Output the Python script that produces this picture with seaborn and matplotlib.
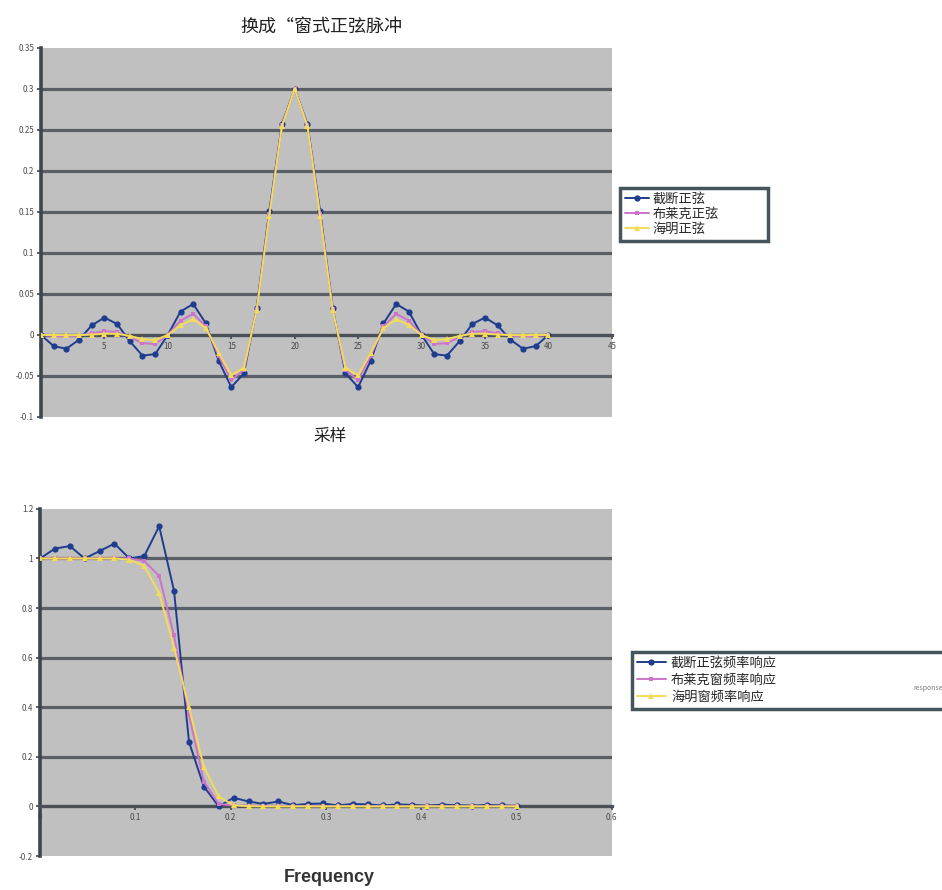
import matplotlib
matplotlib.use("Agg")
import matplotlib.pyplot as plt
import seaborn as sns
from matplotlib.lines import Line2D

sns.set_theme(style="white")
plt.rcParams['font.family'] = ['Noto Sans CJK SC', 'DejaVu Sans']
plt.rcParams['axes.unicode_minus'] = False

# ---- impulse responses (sample index 0..40) ----
sample_n = list(range(41))
sinc_trunc = [0.0, -0.0136, -0.0168, -0.0058, 0.0117, 0.0212, 0.0134, -0.0076, -0.0252, -0.0234,
              0.0, 0.0286, 0.0378, 0.0141, -0.0312, -0.0637, -0.0468, 0.0328, 0.1514, 0.2575,
              0.3,
              0.2575, 0.1514, 0.0328, -0.0468, -0.0637, -0.0312, 0.0141, 0.0378, 0.0286, 0.0,
              -0.0234, -0.0252, -0.0076, 0.0134, 0.0212, 0.0117, -0.0058, -0.0168, -0.0136, 0.0]
sinc_blackman = [0.0, -0.0012, -0.0017, -0.0008, 0.0020, 0.0046, 0.0036, -0.0025, -0.0100, -0.0110,
                 0.0, 0.0175, 0.0258, 0.0105, -0.0253, -0.0551, -0.0427, 0.0312, 0.1480, 0.2560,
                 0.3,
                 0.2560, 0.1480, 0.0312, -0.0427, -0.0551, -0.0253, 0.0105, 0.0258, 0.0175, 0.0,
                 -0.0110, -0.0100, -0.0025, 0.0036, 0.0046, 0.0020, -0.0008, -0.0017, -0.0012, 0.0]
sinc_hamming = [0.0, 0.0, -0.0002, -0.0001, 0.0005, 0.0014, 0.0014, -0.0011, -0.0051, -0.0062,
                0.0, 0.0121, 0.0193, 0.0084, -0.0215, -0.0493, -0.0397, 0.0299, 0.1454, 0.2549,
                0.3,
                0.2549, 0.1454, 0.0299, -0.0397, -0.0493, -0.0215, 0.0084, 0.0193, 0.0121, 0.0,
                -0.0062, -0.0051, -0.0011, 0.0014, 0.0014, 0.0005, -0.0001, -0.0002, 0.0, 0.0]

# ---- frequency responses ----
freq = [0.0, 0.0156, 0.0313, 0.0469, 0.0625, 0.0781, 0.0938, 0.1094, 0.125, 0.1406,
        0.1563, 0.1719, 0.1875, 0.2031, 0.2188, 0.2344, 0.25, 0.2656, 0.2813, 0.2969,
        0.3125, 0.3281, 0.3438, 0.3594, 0.375, 0.3906, 0.4063, 0.4219, 0.4375, 0.4531,
        0.4688, 0.4844, 0.5]
resp_trunc = [1.00, 1.04, 1.05, 1.00, 1.03, 1.06, 1.00, 1.01, 1.13, 0.87,
              0.26, 0.08, 0.00, 0.035, 0.02, 0.01, 0.02, 0.005, 0.01, 0.012,
              0.004, 0.01, 0.008, 0.004, 0.008, 0.006, 0.003, 0.007, 0.005, 0.003,
              0.006, 0.004, 0.002]
resp_blackman = [1.0, 1.0, 1.0, 1.0, 1.0, 1.0, 1.0, 0.99, 0.93, 0.69,
                 0.37, 0.10, 0.01, 0.004, 0.003, 0.002, 0.002, 0.001, 0.002, 0.001,
                 0.001, 0.002, 0.001, 0.001, 0.001, 0.001, 0.001, 0.001, 0.001, 0.001,
                 0.001, 0.001, 0.001]
resp_hamming = [1.0, 1.0, 1.0, 1.0, 1.0, 1.0, 0.995, 0.97, 0.86, 0.64,
                0.40, 0.16, 0.04, 0.005, 0.001, 0.0, 0.0, 0.0, 0.0, 0.0,
                0.0, 0.0, 0.0, 0.0, 0.0, 0.0, 0.0, 0.0, 0.0, 0.0,
                0.0, 0.0, 0.0]

top_labels = ["截断正弦", "布莱克正弦", "海明正弦"]
bot_labels = ["截断正弦频率响应", "布莱克窗频率响应", "海明窗频率响应"]

top_xticks = [0, 5, 10, 15, 20, 25, 30, 35, 40, 45]
top_yticks = [-0.1, -0.05, 0, 0.05, 0.1, 0.15, 0.2, 0.25, 0.3, 0.35]
top_yticklabels = ["-0.1", "-0.05", "0", "0.05", "0.1", "0.15", "0.2", "0.25", "0.3", "0.35"]
bot_xticks = [0, 0.1, 0.2, 0.3, 0.4, 0.5, 0.6]
bot_xticklabels = ["0", "0.1", "0.2", "0.3", "0.4", "0.5", "0.6"]
bot_yticks = [-0.2, 0, 0.2, 0.4, 0.6, 0.8, 1.0, 1.2]
bot_yticklabels = ["-0.2", "0", "0.2", "0.4", "0.6", "0.8", "1", "1.2"]

BLUE = "#1f3d8e"
PURPLE = "#cc74cc"
YELLOW = "#f3dc58"
styles = [
    dict(color=BLUE, marker="o", markersize=4.5),
    dict(color=PURPLE, marker="s", markersize=3.5),
    dict(color=YELLOW, marker="^", markersize=4.0),
]

fig = plt.figure(figsize=(9.42, 8.9), dpi=100)
fig.patch.set_facecolor("white")
ax1 = fig.add_axes([0.0435, 0.5315, 0.606, 0.4146])
ax2 = fig.add_axes([0.0425, 0.0382, 0.607, 0.39])


def draw_series(ax, x, series):
    for y, st in zip(series, styles):
        sns.lineplot(x=x, y=y, ax=ax, color=st["color"], marker=st["marker"],
                     markersize=st["markersize"], markeredgewidth=0,
                     linewidth=1.4, legend=False, zorder=4)


def style_axes(ax, xlim, ylim, xticks, xticklabels, yticks, yticklabels):
    ax.set_facecolor("#c0c0c0")
    ax.set_xlim(*xlim)
    ax.set_ylim(*ylim)
    for t in yticks[1:-1]:
        ax.axhline(t, color="#5a6065", lw=2.3, zorder=1)
    for side in ("top", "right"):
        ax.spines[side].set_visible(False)
    ax.spines["left"].set_color("#3c474d")
    ax.spines["left"].set_linewidth(2.6)
    ax.spines["bottom"].set_position(("data", 0))
    ax.spines["bottom"].set_color("#4a5055")
    ax.spines["bottom"].set_linewidth(2.3)
    ax.set_xticks(xticks)
    ax.set_xticklabels(xticklabels)
    ax.set_yticks(yticks)
    ax.set_yticklabels(yticklabels)
    ax.tick_params(axis="both", labelsize=5.8, labelcolor="#4a4a4a", color="#3c474d",
                   length=3, width=1.2, direction="out", pad=2,
                   bottom=True, left=True)
    ax.set_xlabel("")
    ax.set_ylabel("")


draw_series(ax1, sample_n, [sinc_trunc, sinc_blackman, sinc_hamming])
style_axes(ax1, (0, 45), (-0.1, 0.35), top_xticks, [str(v) for v in top_xticks],
           top_yticks, top_yticklabels)

draw_series(ax2, freq, [resp_trunc, resp_blackman, resp_hamming])
style_axes(ax2, (0, 0.6), (-0.2, 1.2), bot_xticks, bot_xticklabels,
           bot_yticks, bot_yticklabels)


def legend_handles():
    return [Line2D([0], [0], color=st["color"], marker=st["marker"],
                   markersize=st["markersize"], markeredgewidth=0, lw=1.4)
            for st in styles]


leg1 = fig.legend(legend_handles(), top_labels, loc="upper left",
                  bbox_to_anchor=(0.658, 0.730, 0.157, 0.059), mode="expand",
                  fontsize=9.5, labelspacing=0.15, borderpad=0.38, handlelength=1.8,
                  handletextpad=0.3, fancybox=False, framealpha=1, borderaxespad=0)
leg1.get_frame().set_edgecolor("#46555c")
leg1.get_frame().set_linewidth(2.5)

leg2 = fig.legend(legend_handles(), bot_labels, loc="upper left",
                  bbox_to_anchor=(0.671, 0.1955, 0.36, 0.072), mode="expand",
                  fontsize=9.5, labelspacing=0.32, borderpad=0.35, handlelength=2.2,
                  handletextpad=0.4, fancybox=False, framealpha=1, borderaxespad=0)
leg2.get_frame().set_edgecolor("#46555c")
leg2.get_frame().set_linewidth(2.5)

fig.text(0.970, 0.227, "response", fontsize=5, color="#7a7a7a", ha="left", va="center",
         zorder=6)

fig.text(0.341, 0.970, "换成“窗式正弦脉冲", ha="center", va="center", fontsize=13,
         color="#222222")
fig.text(0.350, 0.510, "采样", ha="center", va="center", fontsize=12, color="#222222")
fig.text(0.350, 0.0146, "Frequency", ha="center", va="center", fontsize=13,
         fontweight="bold", family=["Liberation Sans", "DejaVu Sans"], color="#333333")

fig.savefig("out.png", dpi=100, facecolor="white")
